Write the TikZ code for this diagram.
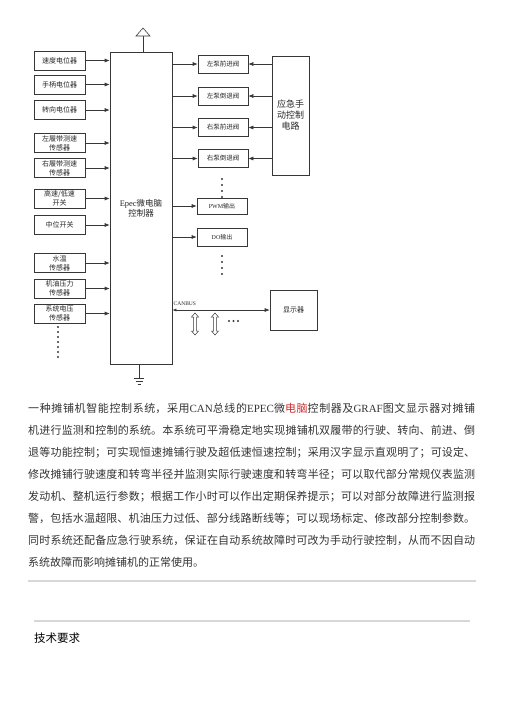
\documentclass[tikz,border=0pt]{standalone}
\usepackage{fontspec}
\usepackage{xcolor}
\usepackage{tikz}
\usetikzlibrary{arrows.meta}
\setmainfont{Noto Sans CJK SC}
\newfontfamily\latin{Liberation Serif}
\XeTeXlinebreaklocale "zh"
\XeTeXlinebreakskip = 0pt plus 1pt
\definecolor{enlace}{RGB}{200,45,45}
\definecolor{linea}{RGB}{55,55,55}
\definecolor{separa}{RGB}{215,215,215}

\begin{document}
\begin{tikzpicture}[x=1pt, y=-1pt,
    every node/.style={inner sep=1pt, text=black!85},
    caja/.style={draw=linea, line width=0.6pt, align=center},
    sensor/.style={caja, minimum width=51pt, minimum height=19pt, font=\fontsize{7}{9}\selectfont},
    valvula/.style={caja, minimum width=50pt, minimum height=18pt, font=\fontsize{6.5}{8}\selectfont},
    flecha/.style={draw=linea, line width=0.6pt, -{Latex[length=5pt,width=4pt]}},
    trazo/.style={draw=linea, line width=0.6pt}]
\useasboundingbox (0,0) rectangle (504,713);

% Controlador
\node[caja, minimum width=62pt, minimum height=312pt, font=\fontsize{8.5}{10}\selectfont] (main) at (141,208) {{\latin Epec}微电脑\\控制器};

% Antena y tierra
\coordinate (ant) at (143,36);
\draw[trazo] (ant) -- (ant |- main.north);
\draw[trazo, fill=white] (136,36) -- (150,36) -- (143,28) -- cycle;
\coordinate (gnd) at (139,378);
\draw[trazo] (gnd |- main.south) -- (gnd);
\draw[trazo] (134,378) -- (144,378) (135.5,381) -- (142.5,381) (137.5,384) -- (140.5,384);

% Entradas
\foreach \i/\y/\txt in {1/60.5/速度电位器, 2/84.5/手柄电位器, 3/110/转向电位器,
    4/143/{左履带测速\\传感器}, 5/168/{右履带测速\\传感器}, 6/198.5/{高速/低速\\开关},
    7/225/中位开关, 8/263/{水温\\传感器}, 9/288.5/{机油压力\\传感器}, 10/313.5/{系统电压\\传感器}} {
    \node[sensor] (s\i) at (59.5,\y) {\txt};
    \draw[flecha] (s\i.east) -- (s\i.east -| main.west);
}
\foreach \y in {327,332,...,357} {
    \fill[linea] (58,\y) circle (1.1pt);
}

% Salidas
\foreach \i/\y/\txt in {1/64/左泵前进阀, 2/96/左泵倒退阀, 3/127.5/右泵前进阀, 4/158.5/右泵倒退阀} {
    \node[valvula] (v\i) at (223,\y) {\txt};
    \draw[flecha] (v\i.west -| main.east) -- (v\i.west);
}
\node[valvula, minimum height=16pt, font=\fontsize{6}{7}\selectfont] (pwm) at (222,206) {{\latin PWM}输出};
\node[valvula, font=\fontsize{6}{7}\selectfont] (dout) at (222,237) {{\latin DO}输出};
\draw[flecha] (pwm.west -| main.east) -- (pwm.west);
\draw[flecha] (dout.west -| main.east) -- (dout.west);
\foreach \y in {179,185,191,197} {
    \fill[linea] (222,\y) circle (1.1pt);
}
\foreach \y in {256,262,268,274} {
    \fill[linea] (222,\y) circle (1.1pt);
}

% Emergencia
\node[caja, minimum width=37pt, minimum height=119pt, font=\fontsize{9}{11}\selectfont] (emg) at (290.5,115.5) {应急手\\动控制\\电路};
\foreach \i in {1,...,4} {
    \draw[flecha] (v\i.east -| emg.west) -- (v\i.east);
}

% CAN
\node[caja, minimum width=47pt, minimum height=40pt, font=\fontsize{7}{8}\selectfont] (disp) at (293.5,310) {显示器};
\draw[trazo, {Latex[length=4pt,width=3pt]}-{Latex[length=5pt,width=4pt]}] (disp.west -| main.east) -- (disp.west);
\node[anchor=south west, inner sep=0.5pt, font={\latin\fontsize{5.5}{6}\selectfont}] (canbus) at (173,306) {CANBUS};
\foreach \x in {195,215} {
    \draw[trazo, line width=0.5pt] (\x,313) -- ++(3.5,4) -- ++(-2,0) -- ++(0,14) -- ++(2,0) -- ++(-3.5,4)
        -- ++(-3.5,-4) -- ++(2,0) -- ++(0,-14) -- ++(-2,0) -- cycle;
}
\foreach \x in {229,233.5,238} {
    \fill[linea] (\x,321) circle (1.2pt);
}

% Texto
\node[anchor=north west, inner sep=0pt, text width=447pt, align=justify, font=\fontsize{11}{22}\selectfont, text=black!80] (parrafo) at (28,402.5) {%
一种摊铺机智能控制系统，采用{\latin CAN}总线的{\latin EPEC}微\textcolor{enlace}{电脑}控制器及{\latin GRAF}图文显示器对摊铺\linebreak
机进行监测和控制的系统。本系统可平滑稳定地实现摊铺机双履带的行驶、转向、前进、倒\linebreak
退等功能控制；可实现恒速摊铺行驶及超低速恒速控制；采用汉字显示直观明了；可设定、\linebreak
修改摊铺行驶速度和转弯半径并监测实际行驶速度和转弯半径；可以取代部分常规仪表监测\linebreak
发动机、整机运行参数；根据工作小时可以作出定期保养提示；可以对部分故障进行监测报\linebreak
警，包括水温超限、机油压力过低、部分线路断线等；可以现场标定、修改部分控制参数。\linebreak
同时系统还配备应急行驶系统，保证在自动系统故障时可改为手动行驶控制，从而不因自动\linebreak
系统故障而影响摊铺机的正常使用。};

\draw[separa, line width=1.2pt] (28,581) -- (476,581);
\draw[separa, line width=1.2pt] (34,621) -- (470,621);
\node[anchor=west, inner sep=0pt, font=\fontsize{11.5}{12}\selectfont, text=black] (titulo) at (34,638) {技术要求};

\end{tikzpicture}
\end{document}
